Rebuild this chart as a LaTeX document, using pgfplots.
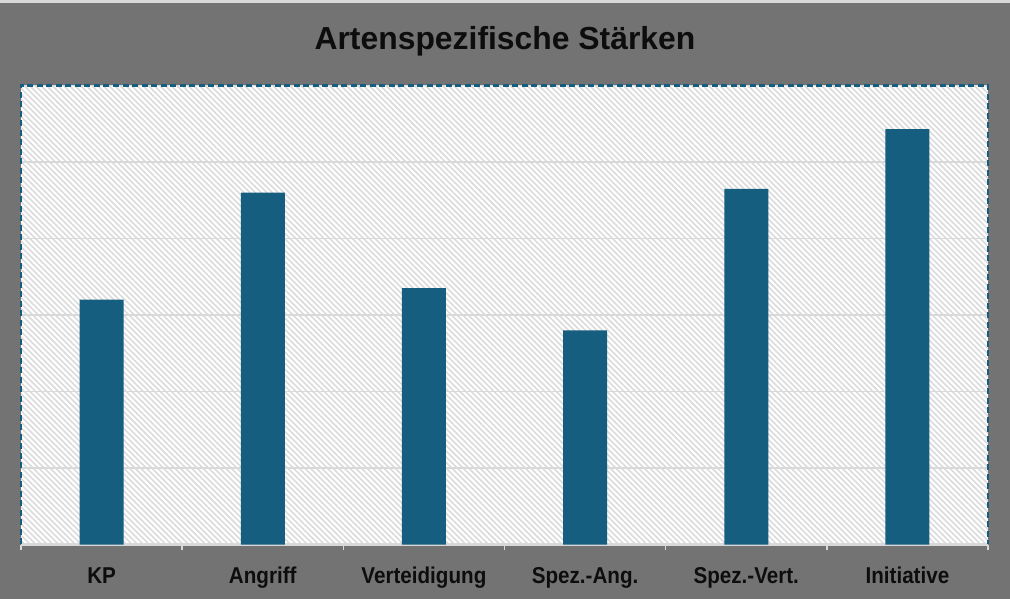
\documentclass[border=0pt]{standalone}
\usepackage{fontspec}
\setmainfont{Liberation Sans}
\newfontfamily\labelfont[FakeStretch=0.9]{Liberation Sans}
\usepackage{pgfplots}
\pgfplotsset{compat=1.18}
\usetikzlibrary{patterns.meta}
\definecolor{bgcol}{HTML}{737373}
\definecolor{barcol}{HTML}{165E80}
\definecolor{gridcol}{HTML}{D9D9D9}
\definecolor{txtcol}{HTML}{0D0D0D}
\begin{document}
\begin{tikzpicture}
\fill[bgcol] (0,0) rectangle (1010bp,599bp);
\fill[gridcol] (0,596bp) rectangle (1010bp,599bp);
\node[font=\bfseries\fontsize{32}{36}\selectfont, text=txtcol, anchor=base] at (505bp,549bp) {Artenspezifische Stärken};
\begin{axis}[
  name=ax,
  at={(21bp,54.5bp)}, anchor=south west,
  scale only axis, width=967bp, height=459bp,
  xmin=-0.5, xmax=5.5, ymin=0, ymax=120,
  xtick={0,1,2,3,4,5},
  xticklabels={KP,Angriff,Verteidigung,Spez.-Ang.,Spez.-Vert.,Initiative},
  minor xtick={-0.5,0.5,...,5.5},
  ytick={0,20,...,120}, yticklabels={},
  ymajorgrids, major grid style={gridcol, line width=1.5bp},
  axis x line*=bottom, axis y line*=left,
  x axis line style={gridcol, line width=2bp, -},
  y axis line style={draw=none},
  xtick align=outside,
  major tick length=0pt, minor tick length=6bp,
  minor tick style={gridcol, line width=1.5bp},
  major tick style={draw=none},
  xticklabel style={font=\labelfont\bfseries\fontsize{23}{25}\selectfont, text=txtcol, anchor=base, yshift=-39bp},
  axis background/.style={preaction={fill=white}, pattern={Lines[angle=-45, distance=4bp, line width=1.6bp]}, pattern color=black!14},
  clip=false,
]
\addplot[ybar, bar width=44bp, fill=barcol, draw=none] coordinates {
  (0,64) (1,92) (2,67) (3,56) (4,93) (5,108.6)
};
\end{axis}
\draw[draw=barcol, line width=2.6bp, line cap=butt, dash pattern=on 6bp off 3.5bp] (ax.south west) -- (ax.north west) -- (ax.north east) -- (ax.south east);
\end{tikzpicture}
\end{document}
